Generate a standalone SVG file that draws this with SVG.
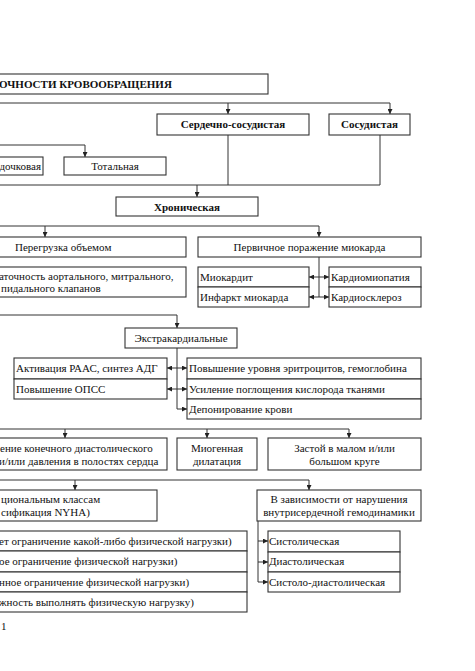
<svg xmlns="http://www.w3.org/2000/svg" width="475" height="671" viewBox="0 0 475 671">
<style>
.b{fill:#fff;stroke:#333;stroke-width:1.1}
.l{fill:none;stroke:#333;stroke-width:1}
.t{font-family:"Liberation Serif","Times New Roman",serif;font-size:11px;fill:#111}
.bd{font-weight:bold}
.m{text-anchor:middle}
.e{text-anchor:end}
</style>
<defs>
<marker id="a" viewBox="0 0 8 8" refX="8" refY="4" markerWidth="5" markerHeight="5" markerUnits="userSpaceOnUse" orient="auto-start-reverse">
<path d="M0,0 L8,4 L0,8 z" fill="#222"/>
</marker>
</defs>
<rect width="475" height="671" fill="#fff"/>
<g id="connectors">
<path class="l" d="M-1,103 H390"/>
<path class="l" d="M228,103 V114" marker-end="url(#a)"/>
<path class="l" d="M390,103 V114" marker-end="url(#a)"/>
<path class="l" d="M-1,145 H85 V157" marker-end="url(#a)"/>
<path class="l" d="M228,135 V185"/>
<path class="l" d="M380,135 V185"/>
<path class="l" d="M-1,185 H380"/>
<path class="l" d="M197,185 V197" marker-end="url(#a)"/>
<path class="l" d="M-1,226 H319 V237" marker-end="url(#a)"/>
<path class="l" d="M45,226 V237" marker-end="url(#a)"/>
<path class="l" d="M319,257 V297"/>
<path class="l" d="M309,277 H329" marker-start="url(#a)" marker-end="url(#a)"/>
<path class="l" d="M309,297 H329" marker-start="url(#a)" marker-end="url(#a)"/>
<path class="l" d="M-1,315 H177 V328" marker-end="url(#a)"/>
<path class="l" d="M177,348 V409 H187" marker-end="url(#a)"/>
<path class="l" d="M167,368 H187" marker-start="url(#a)" marker-end="url(#a)"/>
<path class="l" d="M167,389 H187" marker-start="url(#a)" marker-end="url(#a)"/>
<path class="l" d="M-1,429 H349 V438" marker-end="url(#a)"/>
<path class="l" d="M65,429 V438" marker-end="url(#a)"/>
<path class="l" d="M207,429 V438" marker-end="url(#a)"/>
<path class="l" d="M-1,480 H309 V490" marker-end="url(#a)"/>
<path class="l" d="M75,480 V490" marker-end="url(#a)"/>
<path class="l" d="M258,521 V582 H268" marker-end="url(#a)"/>
<path class="l" d="M258,541 H268" marker-end="url(#a)"/>
<path class="l" d="M258,562 H268" marker-end="url(#a)"/>
</g>
<g id="title"><rect class="b" x="-2" y="74" width="270" height="20"/><text class="t bd" x="-1" y="88">ОЧНОСТИ КРОВООБРАЩЕНИЯ</text></g>
<g id="cardiovascular"><rect class="b" x="157" y="114" width="152" height="21"/><text class="t bd m" x="233" y="128">Сердечно-сосудистая</text></g>
<g id="vascular"><rect class="b" x="329" y="114" width="81" height="21"/><text class="t bd m" x="369.5" y="128">Сосудистая</text></g>
<g id="ventricular"><rect class="b" x="-2" y="157" width="45" height="18"/><text class="t e" x="41" y="170">дочковая</text></g>
<g id="total"><rect class="b" x="64" y="157" width="102" height="18"/><text class="t m" x="115" y="170">Тотальная</text></g>
<g id="chronic"><rect class="b" x="116" y="197" width="142" height="19"/><text class="t bd m" x="187" y="211">Хроническая</text></g>
<g id="volume"><rect class="b" x="-2" y="237" width="188" height="20"/><text class="t" x="15" y="251">Перегрузка объемом</text></g>
<g id="primary"><rect class="b" x="198" y="237" width="223" height="20"/><text class="t m" x="309.5" y="251">Первичное поражение миокарда</text></g>
<g id="valves"><rect class="b" x="-2" y="267" width="188" height="30"/><text class="t" x="-1" y="280">аточность аортального, митрального,</text><text class="t" x="1" y="292">пидального клапанов</text></g>
<g id="myocarditis"><rect class="b" x="198" y="267" width="111" height="20"/><rect class="b" x="198" y="287" width="111" height="20"/><text class="t" x="200" y="281">Миокардит</text><text class="t" x="200" y="301">Инфаркт миокарда</text></g>
<g id="cardiomyopathy"><rect class="b" x="329" y="267" width="92" height="20"/><rect class="b" x="329" y="287" width="92" height="20"/><text class="t" x="331" y="281">Кардиомиопатия</text><text class="t" x="331" y="301">Кардиосклероз</text></g>
<g id="extracardiac"><rect class="b" x="125" y="328" width="112" height="20"/><text class="t m" x="181" y="342">Экстракардиальные</text></g>
<g id="raas"><rect class="b" x="14" y="358" width="153" height="21"/><rect class="b" x="14" y="379" width="153" height="20"/><text class="t" x="16" y="372">Активация РААС, синтез АДГ</text><text class="t" x="16" y="393">Повышение ОПСС</text></g>
<g id="compensation"><rect class="b" x="187" y="358" width="234" height="21"/><rect class="b" x="187" y="379" width="234" height="20"/><rect class="b" x="187" y="399" width="234" height="20"/><text class="t" x="189" y="372">Повышение уровня эритроцитов, гемоглобина</text><text class="t" x="189" y="393">Усиление поглощения кислорода тканями</text><text class="t" x="189" y="413">Депонирование крови</text></g>
<g id="diastolic-volume"><rect class="b" x="-2" y="438" width="169" height="32"/><text class="t" x="0" y="452">ение конечного диастолического</text><text class="t" x="-1" y="465">и/или давления в полостях сердца</text></g>
<g id="myogenic"><rect class="b" x="177" y="438" width="80" height="32"/><text class="t m" x="217" y="452">Миогенная</text><text class="t m" x="217" y="465">дилатация</text></g>
<g id="congestion"><rect class="b" x="268" y="438" width="153" height="32"/><text class="t m" x="344.5" y="452">Застой в малом и/или</text><text class="t m" x="344.5" y="465">большом круге</text></g>
<g id="nyha"><rect class="b" x="-2" y="490" width="159" height="31"/><text class="t" x="1" y="503">циональным классам</text><text class="t" x="1" y="516">сификация NYHA)</text></g>
<g id="hemodynamics"><rect class="b" x="257" y="490" width="164" height="31"/><text class="t m" x="339" y="503">В зависимости от нарушения</text><text class="t m" x="339" y="516">внутрисердечной гемодинамики</text></g>
<g id="nyha-classes"><rect class="b" x="-2" y="531" width="249" height="20"/><rect class="b" x="-2" y="551" width="249" height="21"/><rect class="b" x="-2" y="572" width="249" height="20"/><rect class="b" x="-2" y="592" width="249" height="20"/><text class="t" x="-1" y="545">ет ограничение какой-либо физической нагрузки)</text><text class="t" x="-1" y="565">ое ограничение физической нагрузки)</text><text class="t" x="-1" y="586">нное ограничение физической нагрузки)</text><text class="t" x="-1" y="606">жность выполнять физическую нагрузку)</text></g>
<g id="types"><rect class="b" x="268" y="531" width="132" height="21"/><rect class="b" x="268" y="552" width="132" height="20"/><rect class="b" x="268" y="572" width="132" height="20"/><text class="t" x="269" y="545">Систолическая</text><text class="t" x="269" y="565">Диастолическая</text><text class="t" x="269" y="586">Систоло-диастолическая</text></g>
<text class="t" x="1" y="630">1</text>
</svg>
